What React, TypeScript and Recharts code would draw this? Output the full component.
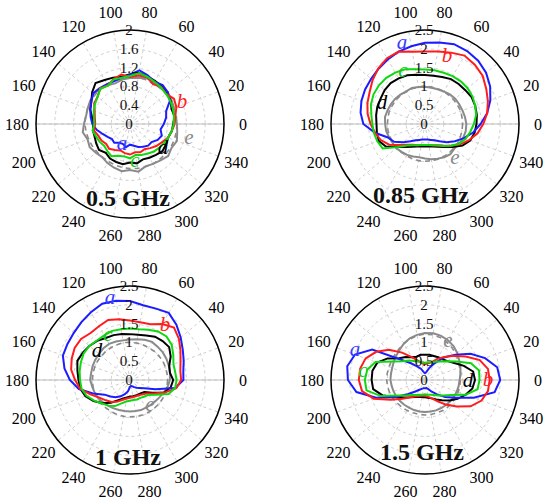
import React from 'react';
import { RadarChart, Radar, PolarGrid, PolarAngleAxis, PolarRadiusAxis } from 'recharts';

const angles = [0, 10, 20, 30, 40, 50, 60, 70, 80, 90, 100, 110, 120, 130, 140, 150, 160, 170,
  180, 190, 200, 210, 220, 230, 240, 250, 260, 270, 280, 290, 300, 310, 320, 330, 340, 350];
const spokes = [0, 20, 40, 60, 80, 100, 120, 140, 160, 180, 200, 220, 240, 260, 280, 300, 320, 340];
const ticks2 = [0, 0.4, 0.8, 1.2, 1.6, 2];
const ticks25 = [0, 0.5, 1, 1.5, 2, 2.5];

// 0.5 GHz
const a05 = [0.72, 0.78, 0.82, 0.98, 1.05, 1.08, 1.04, 1.1, 1.16, 1.05, 1.0, 0.97, 0.98, 1.0, 1.02, 0.95, 0.9, 0.85,
  0.8, 0.72, 0.62, 0.55, 0.5, 0.52, 0.46, 0.45, 0.5, 0.44, 0.47, 0.52, 0.56, 0.6, 0.6, 0.68, 0.72, 0.66];
const b05 = [0.95, 0.98, 1.05, 1.08, 1.0, 1.03, 0.98, 1.06, 1.05, 1.0, 1.07, 1.02, 0.95, 0.99, 0.9, 0.88, 0.8, 0.76,
  0.74, 0.78, 0.72, 0.7, 0.66, 0.69, 0.64, 0.6, 0.63, 0.65, 0.61, 0.64, 0.62, 0.67, 0.73, 0.78, 0.86, 0.9];
const c05 = [0.93, 0.95, 0.97, 0.99, 1.0, 1.02, 1.04, 1.07, 1.1, 1.02, 1.0, 1.01, 0.94, 0.98, 0.9, 0.86, 0.82, 0.78,
  0.76, 0.81, 0.77, 0.75, 0.72, 0.75, 0.79, 0.72, 0.7, 0.73, 0.67, 0.7, 0.73, 0.77, 0.8, 0.83, 0.86, 0.9];
const d05 = [0.92, 0.96, 0.94, 1.0, 1.02, 1.05, 1.06, 1.08, 1.1, 1.06, 1.02, 1.05, 1.08, 1.14, 1.05, 0.95, 0.9, 0.82,
  0.78, 0.8, 0.8, 0.83, 0.86, 0.8, 0.85, 0.86, 0.87, 0.82, 0.85, 0.8, 0.83, 0.86, 0.9, 0.88, 0.86, 0.9];
const e05 = [1.0, 0.98, 1.0, 1.02, 1.05, 1.0, 1.02, 1.04, 1.0, 0.98, 0.96, 0.92, 0.95, 0.98, 1.0, 0.98, 0.96, 0.95,
  0.98, 1.02, 0.96, 0.99, 0.95, 0.92, 0.96, 0.99, 1.02, 0.98, 1.03, 0.96, 0.98, 1.01, 1.06, 1.02, 1.06, 1.02];
const r05 = [1.0, 1.0, 0.99, 1.0, 1.01, 1.0, 0.99, 1.0, 1.0, 1.0, 0.99, 0.98, 0.98, 0.97, 0.97, 0.97, 0.96, 0.96,
  0.96, 0.95, 0.94, 0.93, 0.92, 0.92, 0.92, 0.93, 0.94, 0.95, 0.96, 0.97, 0.98, 0.98, 0.99, 1.0, 1.0, 1.0];

// 0.85 GHz
const a085 = [1.48, 1.68, 1.85, 2.0, 2.12, 2.2, 2.24, 2.26, 2.2, 2.16, 2.1, 2.05, 1.98, 1.92, 1.87, 1.84, 1.8, 1.74,
  1.64, 1.35, 1.05, 0.95, 0.75, 0.6, 0.5, 0.45, 0.42, 0.41, 0.42, 0.45, 0.5, 0.6, 0.75, 0.92, 1.1, 1.3];
const b085 = [1.55, 1.68, 1.78, 1.88, 2.0, 2.06, 2.1, 2.02, 1.96, 1.93, 1.95, 2.05, 2.02, 1.93, 1.82, 1.7, 1.63, 1.55,
  1.45, 1.35, 1.25, 1.1, 0.87, 0.72, 0.64, 0.6, 0.57, 0.56, 0.57, 0.6, 0.65, 0.75, 0.9, 1.08, 1.25, 1.42];
const c085 = [1.3, 1.38, 1.42, 1.46, 1.48, 1.48, 1.47, 1.45, 1.45, 1.45, 1.48, 1.55, 1.58, 1.6, 1.6, 1.58, 1.53, 1.45,
  1.4, 1.38, 1.35, 1.3, 0.95, 0.75, 0.65, 0.6, 0.57, 0.56, 0.57, 0.6, 0.66, 0.76, 0.9, 1.05, 1.15, 1.22];
const d085 = [1.37, 1.4, 1.42, 1.43, 1.4, 1.39, 1.38, 1.33, 1.3, 1.3, 1.33, 1.38, 1.4, 1.42, 1.4, 1.36, 1.35, 1.32,
  1.29, 1.3, 1.31, 1.2, 0.95, 0.8, 0.7, 0.64, 0.61, 0.6, 0.61, 0.64, 0.7, 0.8, 0.95, 1.15, 1.28, 1.34];
const e085 = [1.1, 1.08, 1.06, 1.05, 1.05, 1.03, 1.0, 0.98, 0.98, 0.99, 1.0, 1.02, 1.0, 1.02, 1.04, 1.05, 1.06, 1.08,
  1.06, 1.05, 1.02, 1.0, 1.0, 0.97, 0.95, 0.92, 0.9, 0.92, 0.95, 0.98, 1.02, 1.05, 1.02, 1.05, 1.08, 1.1];
const r085 = [1.0, 1.0, 1.01, 1.0, 1.0, 0.99, 1.0, 1.0, 1.0, 1.01, 1.0, 1.0, 0.99, 1.0, 1.0, 1.0, 1.01, 1.0,
  1.0, 1.0, 0.99, 0.99, 0.98, 0.98, 0.98, 0.98, 0.99, 0.99, 0.99, 1.0, 1.0, 1.0, 1.0, 1.01, 1.0, 1.0];

// 1 GHz
const a1 = [1.42, 1.44, 1.52, 1.62, 1.76, 1.92, 2.06, 2.02, 2.02, 2.1, 2.14, 2.16, 2.08, 2.01, 1.95, 1.92, 1.9, 1.77,
  1.6, 1.38, 1.05, 0.78, 0.68, 0.6, 0.5, 0.4, 0.3, 0.18, 0.16, 0.18, 0.22, 0.27, 0.33, 0.44, 0.72, 1.22];
const b1 = [1.36, 1.36, 1.43, 1.55, 1.7, 1.82, 1.72, 1.58, 1.56, 1.58, 1.64, 1.7, 1.65, 1.63, 1.7, 1.7, 1.65, 1.59,
  1.46, 1.35, 1.12, 0.94, 0.84, 0.76, 0.66, 0.56, 0.5, 0.47, 0.46, 0.46, 0.47, 0.5, 0.56, 0.72, 0.98, 1.25];
const c1 = [1.24, 1.22, 1.23, 1.33, 1.45, 1.51, 1.49, 1.42, 1.37, 1.37, 1.37, 1.39, 1.37, 1.37, 1.41, 1.42, 1.39, 1.36,
  1.33, 1.31, 1.23, 1.1, 0.97, 0.89, 0.8, 0.66, 0.58, 0.55, 0.54, 0.55, 0.55, 0.58, 0.62, 0.79, 1.09, 1.22];
const d1 = [1.15, 1.08, 1.11, 1.25, 1.36, 1.35, 1.33, 1.26, 1.22, 1.22, 1.24, 1.27, 1.29, 1.36, 1.41, 1.45, 1.49, 1.42,
  1.37, 1.34, 1.26, 1.12, 0.96, 0.79, 0.62, 0.52, 0.47, 0.44, 0.44, 0.44, 0.44, 0.46, 0.5, 0.68, 0.97, 1.1];
const e1 = [1.06, 1.08, 1.1, 1.12, 1.14, 1.15, 1.17, 1.14, 1.1, 1.08, 1.07, 1.09, 1.11, 1.1, 1.08, 1.07, 1.06, 1.05,
  1.06, 1.02, 1.0, 0.97, 0.93, 0.9, 0.87, 0.85, 0.84, 0.84, 0.84, 0.85, 0.85, 0.86, 0.88, 0.91, 0.96, 1.02];
const r1 = [1.0, 1.0, 1.0, 1.01, 1.0, 1.0, 0.99, 1.0, 1.0, 1.0, 1.01, 1.0, 1.0, 1.0, 0.99, 1.0, 1.0, 1.0,
  1.0, 1.0, 0.99, 0.99, 0.99, 0.98, 0.98, 0.98, 0.98, 0.98, 0.98, 0.99, 0.99, 0.99, 1.0, 1.0, 1.0, 1.0];

// 1.5 GHz
const a15 = [2.0, 1.95, 1.7, 1.4, 1.05, 0.78, 0.52, 0.35, 0.22, 0.18, 0.22, 0.32, 0.42, 0.58, 0.85, 1.62, 1.98, 2.1,
  2.05, 1.85, 1.38, 0.92, 0.58, 0.4, 0.3, 0.25, 0.22, 0.22, 0.22, 0.26, 0.36, 0.5, 0.7, 0.95, 1.38, 1.88];
const b15 = [1.72, 1.7, 1.55, 1.25, 1.0, 0.8, 0.65, 0.5, 0.45, 0.42, 0.45, 0.55, 0.7, 0.95, 1.25, 1.5, 1.68, 1.75,
  1.76, 1.7, 1.45, 1.05, 0.78, 0.6, 0.5, 0.45, 0.42, 0.42, 0.45, 0.52, 0.65, 0.85, 1.1, 1.4, 1.6, 1.7];
const c15 = [1.45, 1.46, 1.3, 0.98, 0.78, 0.64, 0.56, 0.5, 0.48, 0.46, 0.48, 0.52, 0.58, 0.68, 0.78, 0.98, 1.4, 1.56,
  1.6, 1.58, 1.25, 0.82, 0.64, 0.52, 0.46, 0.42, 0.4, 0.38, 0.4, 0.42, 0.46, 0.54, 0.64, 0.8, 1.15, 1.42];
const d15 = [1.33, 1.3, 1.1, 0.9, 0.78, 0.72, 0.7, 0.68, 0.68, 0.67, 0.68, 0.66, 0.7, 0.8, 0.9, 1.15, 1.35, 1.42,
  1.42, 1.4, 1.2, 0.9, 0.72, 0.6, 0.52, 0.48, 0.46, 0.46, 0.48, 0.52, 0.6, 0.7, 0.85, 1.0, 1.15, 1.28];
const e15 = [0.92, 0.96, 1.0, 1.05, 1.12, 1.18, 1.22, 1.25, 1.26, 1.25, 1.22, 1.18, 1.12, 1.05, 1.0, 0.96, 0.93, 0.92,
  0.92, 0.9, 0.89, 0.88, 0.87, 0.86, 0.85, 0.85, 0.85, 0.85, 0.85, 0.86, 0.86, 0.87, 0.88, 0.89, 0.9, 0.91];
const r15 = [0.94, 0.96, 0.98, 1.02, 1.07, 1.12, 1.16, 1.2, 1.22, 1.22, 1.2, 1.16, 1.12, 1.08, 1.05, 1.03, 1.02, 1.02,
  1.02, 1.01, 1.0, 0.98, 0.96, 0.95, 0.94, 0.93, 0.93, 0.93, 0.93, 0.93, 0.94, 0.94, 0.94, 0.94, 0.94, 0.94];

const FONT = '"Liberation Serif", "Times New Roman", serif';
const LABEL_R = 113;

const series = [
  { key: 'r', color: '#8a8a8a', width: 1.6, dash: '5 4' },
  { key: 'e', color: '#8a8a8a', width: 2 },
  { key: 'd', color: '#000000', width: 2 },
  { key: 'a', color: '#1c1cff', width: 2 },
  { key: 'b', color: '#ff1c1c', width: 2 },
  { key: 'c', color: '#10d810', width: 2 },
];

const letterColor: Record<string, string> = { a: '#3a3aff', b: '#ff2020', c: '#12c812', d: '#000', e: '#8a8a8a' };

// recharts walks a radar clockwise, so feed the angles in descending order (0, 350, 340, ...)
const order = angles.map((_, i) => (angles.length - i) % angles.length);
const build = (a: number[], b: number[], c: number[], d: number[], e: number[], r: number[]) =>
  order.map((k) => ({ angle: angles[k], a: a[k], b: b[k], c: c[k], d: d[k], e: e[k], r: r[k] }));

const plots = [
  { title: '0.5 GHz', ticks: ticks2, left: 0, top: 0, cx: 130, cy: 124, data: build(a05, b05, c05, d05, e05, r05),
    titleAt: [128, 198],
    letters: [['b', 182, 101], ['e', 189, 137], ['a', 122, 143], ['d', 163, 147], ['c', 135, 160]] },
  { title: '0.85 GHz', ticks: ticks25, left: 275, top: 0, cx: 150, cy: 124, data: build(a085, b085, c085, d085, e085, r085),
    titleAt: [421, 195],
    letters: [['a', 402, 42], ['b', 447, 55], ['c', 403, 70], ['d', 382, 102], ['e', 455, 157]] },
  { title: '1 GHz', ticks: ticks25, left: 0, top: 252, cx: 130, cy: 128, data: build(a1, b1, c1, d1, e1, r1),
    titleAt: [128, 457],
    letters: [['a', 110, 297], ['b', 165, 324], ['c', 108, 334], ['d', 97, 350], ['e', 150, 404]] },
  { title: '1.5 GHz', ticks: ticks25, left: 275, top: 252, cx: 150, cy: 128, data: build(a15, b15, c15, d15, e15, r15),
    titleAt: [422, 452],
    letters: [['a', 355, 349], ['c', 363, 370], ['e', 448, 340], ['d', 468, 380], ['b', 488, 379]] },
];

const makeAngleTick = (cx: number, cy: number) => (props: any) => {
  const v = Number(props.payload.value);
  if (v % 20 !== 0) return <g />;
  const rad = (v * Math.PI) / 180;
  return (
    <text x={cx + LABEL_R * Math.cos(rad)} y={cy - LABEL_R * Math.sin(rad)} textAnchor="middle"
      dominantBaseline="central" fontSize={16} fontFamily={FONT} fill="#000">
      {v}
    </text>
  );
};

const RadiusTick = (props: any) => {
  const { x, y, payload } = props;
  return (
    <text x={x - 1} y={y} textAnchor="middle" dominantBaseline="central" fontSize={15} fontFamily={FONT} fill="#111">
      {Number(Number(payload.value).toFixed(1))}
    </text>
  );
};

function Polar({ p }: { p: any }) {
  const max = p.ticks[p.ticks.length - 1];
  return (
    <div style={{ position: 'absolute', left: p.left, top: p.top, width: 275, height: 252 }}>
      <RadarChart width={275} height={252} data={p.data} cx={p.cx} cy={p.cy} outerRadius={94}
        startAngle={0} endAngle={-360} margin={{ top: 0, right: 0, bottom: 0, left: 0 }}>
        <PolarGrid gridType="circle" polarAngles={spokes} stroke="#cfcfcf" strokeDasharray="3 3" />
        <PolarGrid gridType="circle" polarAngles={[0, 180]} polarRadius={[]} stroke="#bdbdbd" />
        <PolarAngleAxis dataKey="angle" axisLineType="circle" stroke="#000" strokeWidth={1.5}
          tickLine={false} tickSize={19} tick={makeAngleTick(p.cx, p.cy)} />
        <PolarRadiusAxis angle={90} domain={[0, max]} ticks={p.ticks} tickCount={6} allowDecimals
          allowDataOverflow axisLine={false} tick={RadiusTick} />
        {series.map((s) => (
          <Radar key={s.key} dataKey={s.key} stroke={s.color} strokeWidth={s.width} strokeDasharray={s.dash}
            fill="none" fillOpacity={0} dot={false} isAnimationActive={false} />
        ))}
      </RadarChart>
    </div>
  );
}

export default function App() {
  return (
    <div style={{ position: 'absolute', left: 0, top: 0, width: 550, height: 504, background: '#fff' }}>
      {plots.map((p) => <Polar key={p.title} p={p} />)}
      <svg width={550} height={504} style={{ position: 'absolute', left: 0, top: 0, pointerEvents: 'none' }}>
        {plots.map((p) => (
          <g key={p.title}>
            <text x={p.titleAt[0]} y={p.titleAt[1]} textAnchor="middle" dominantBaseline="central"
              fontSize={24} fontWeight="bold" fontFamily={FONT} fill="#111">{p.title}</text>
            {p.letters.map((l: any) => (
              <text key={l[0]} x={l[1]} y={l[2]} textAnchor="middle" dominantBaseline="central" fontSize={21}
                fontStyle="italic" fontFamily={FONT} fill={letterColor[l[0]]}>{l[0]}</text>
            ))}
          </g>
        ))}
      </svg>
    </div>
  );
}
